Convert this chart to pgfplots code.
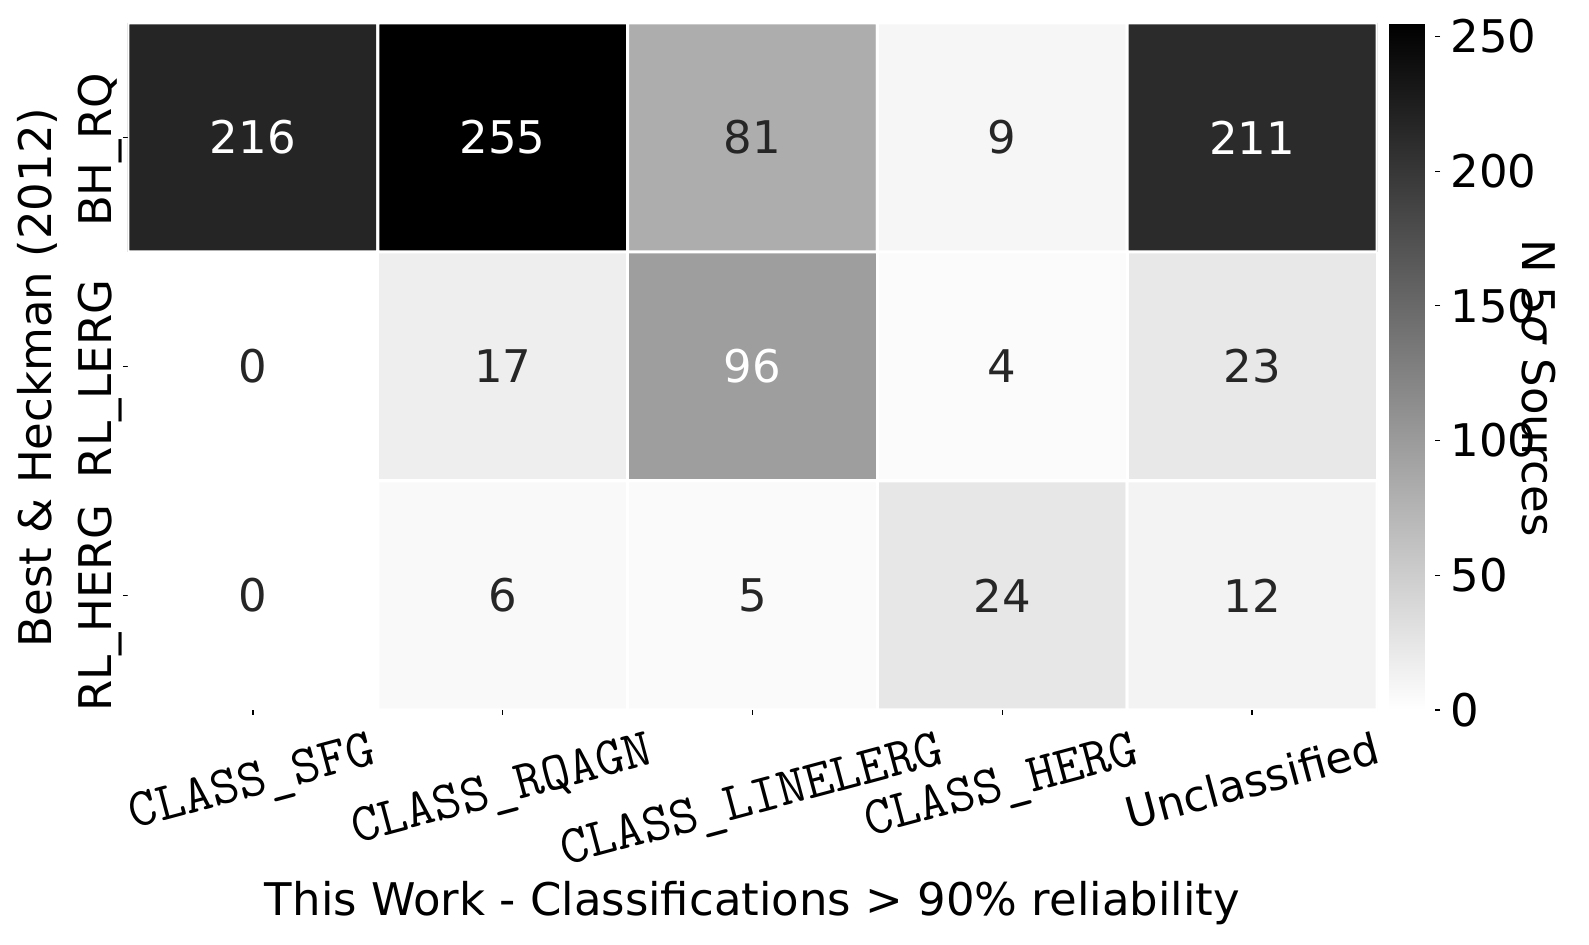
\documentclass[border=0pt]{standalone}
\usepackage{fontspec}
\setmainfont{DejaVu Sans}
\usepackage{graphicx}
\usepackage{pgfplots}
\usepackage{pgfplotstable}
\pgfplotsset{compat=1.18}
\definecolor{annot}{RGB}{38,38,38}

% rows: y=2 BH_RQ, y=1 RL_LERG, y=0 RL_HERG
\pgfplotstableread{
x y v
0 0 0
1 0 6
2 0 5
3 0 24
4 0 12
0 1 0
1 1 17
2 1 96
3 1 4
4 1 23
0 2 216
1 2 255
2 2 81
3 2 9
4 2 211
}\cells

\newcommand{\fs}{\fontsize{18}{21.6}\selectfont}
\newcommand{\tl}[1]{\rotatebox{15}{\fontsize{21.8}{26}\selectfont\ttfamily #1}}
\newcommand{\tu}[1]{\rotatebox{15}{\fontsize{17.3}{21}\selectfont #1}}

\begin{document}
\begin{tikzpicture}
\begin{axis}[
    scale only axis,
    width=499.6pt,
    height=274.8pt,
    xmin=-0.5, xmax=4.5,
    ymin=-0.5, ymax=2.5,
    enlargelimits=false,
    axis line style={draw=none},
    xtick={0,1,2,3,4},
    ytick={0,1,2},
    xtick pos=left,
    ytick pos=left,
    xticklabels={\tl{CLASS\_SFG},\tl{CLASS\_RQAGN},\tl{CLASS\_LINELERG},\tl{CLASS\_HERG},\tu{Unclassified}},
    yticklabels={RL\_HERG,RL\_LERG,BH\_RQ},
    tick align=outside,
    major tick length=2pt,
    tick style={black, line width=0.5pt},
    tick label style={font=\fs},
    xticklabel style={anchor=north, inner sep=0pt, yshift=-6pt},
    yticklabel style={rotate=90, anchor=south, inner sep=0pt, xshift=-5pt},
    label style={font=\fs},
    xlabel={This Work - Classifications > 90\% reliability},
    xlabel style={at={(axis description cs:0.5,-0.281)}, anchor=center},
    ylabel={Best \& Heckman (2012)},
    ylabel style={at={(axis description cs:-0.0729,0.484)}, anchor=center},
    colormap={greyr}{gray(0cm)=(1); gray(1cm)=(0)},
    point meta min=0,
    point meta max=255,
    colorbar,
    colorbar style={
        scale only axis,
        width=18.4pt,
        at={(parent axis.north east)},
        anchor=north west,
        xshift=-3.7pt,
        axis line style={draw=none},
        ytick={0,50,100,150,200,250},
        ytick pos=right,
        yticklabel pos=right,
        tick align=outside,
        major tick length=2pt,
        tick style={black, line width=0.5pt},
        yticklabel style={font=\fs, inner sep=0pt, xshift=4pt, /pgf/number format/assume math mode=true},
        ylabel={N 5{\itshape σ} Sources},
        ylabel style={font=\fs, rotate=180, at={(axis description cs:3.26,0.469)}, anchor=center},
    },
]
\addplot[matrix plot*, mesh/cols=5, point meta=explicit, draw=white, line width=1.2pt]
    table[x=x, y=y, meta=v] {\cells};
\addplot[draw=none, mark=none, point meta=explicit symbolic,
    nodes near coords={\ifnum\pgfplotspointmeta>85 \color{white}\else\color{annot}\fi\pgfplotspointmeta},
    nodes near coords style={anchor=center, font=\fs}]
    table[x=x, y=y, meta=v] {\cells};
\coordinate (bl) at (rel axis cs:0,0);
\coordinate (tr) at (rel axis cs:1,1);
\end{axis}
\pgfresetboundingbox
\path[use as bounding box] ([shift={(-51.2pt,-94pt)}]bl) rectangle ([shift={(84.8pt,9.2pt)}]tr);
\end{tikzpicture}
\end{document}
